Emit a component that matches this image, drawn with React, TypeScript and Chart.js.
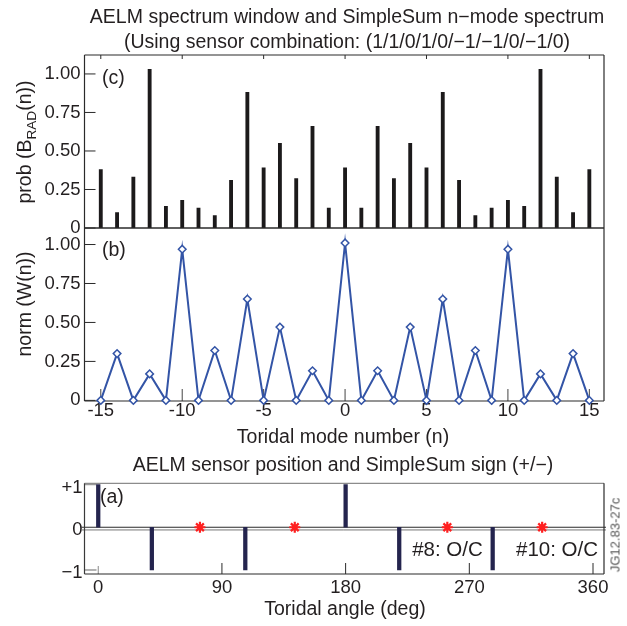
import React, { useEffect, useRef } from "react";
import { Chart, registerables } from "chart.js";

Chart.register(...registerables);

// ---------------- data ----------------
const modeNumbers = [-15, -14, -13, -12, -11, -10, -9, -8, -7, -6, -5, -4, -3, -2, -1, 0, 1, 2, 3, 4, 5, 6, 7, 8, 9, 10, 11, 12, 13, 14, 15];
const probBRad = [0.38, 0.1, 0.33, 1.03, 0.14, 0.18, 0.13, 0.08, 0.31, 0.88, 0.39, 0.55, 0.32, 0.66, 0.13, 0.39, 0.13, 0.66, 0.32, 0.55, 0.39, 0.88, 0.31, 0.08, 0.13, 0.18, 0.14, 1.03, 0.33, 0.1, 0.38];
const normW = [0, 0.3, 0, 0.17, 0, 0.97, 0, 0.32, 0, 0.65, 0, 0.47, 0, 0.19, 0, 1.01, 0, 0.19, 0, 0.47, 0, 0.65, 0, 0.32, 0, 0.97, 0, 0.17, 0, 0.3, 0];

const probTickValues = [0, 0.25, 0.5, 0.75, 1];
const probTickLabels = ["0", "0.25", "0.50", "0.75", "1.00"];
const modeTickValues = [-15, -10, -5, 0, 5, 10, 15];
const modeTickLabels = ["-15", "-10", "-5", "0", "5", "10", "15"];

const sensorAngles = [0, 39, 107, 180, 219, 287];
const sensorSigns = [1, -1, -1, 1, -1, -1];
const openSensorAngles = [74, 143, 254, 323];
const openSensorValues = [0, 0, 0, 0];
const signTickValues = [-1, 0, 1];
const signTickLabels = ["\u22121", "0", "+1"];
const angleTickValues = [0, 90, 180, 270, 360];
const angleTickLabels = ["0", "90", "180", "270", "360"];

// ---------------- styles ----------------
const FONT = "'Liberation Sans', Arial, Helvetica, sans-serif";
const TEXT = "#231f20";
const BAR_C = "#1c1a1b";
const BLUE = "#3354a6";
const NAVY = "#24244e";
const RED = "#ff1f1f";
const FRAME = "#2a2a2a";
const TICK_FONT = { family: FONT, size: 18.5, lineHeight: 1 };

const PLOT_LEFT = 84.5;
const RIGHT_PAD = 23;

type TickSpec = { axis: "x" | "y"; side: "top" | "bottom" | "left"; values: number[]; length: number; color: string; width: number };
type LineSpec = { value: number; offset: number; color: string; width: number; extendLeft: number; extendRight: number };
type FrameSpec = { sides: { top: string; right: string; bottom: string; left: string }; width: number; ticks: TickSpec[]; lines: LineSpec[] };

function makeFrame(spec: FrameSpec) {
  return {
    id: "frame",
    beforeDatasetsDraw(chart: any) {
      const { ctx, chartArea: a, scales } = chart;
      ctx.save();
      ctx.lineCap = "butt";
      spec.lines.forEach((l) => {
        const y = scales.y.getPixelForValue(l.value) + l.offset;
        ctx.strokeStyle = l.color;
        ctx.lineWidth = l.width;
        ctx.beginPath();
        ctx.moveTo(a.left - l.extendLeft, y);
        ctx.lineTo(a.right + l.extendRight, y);
        ctx.stroke();
      });
      spec.ticks.forEach((t) => {
        const scale = scales[t.axis];
        ctx.strokeStyle = t.color;
        ctx.lineWidth = t.width;
        t.values.forEach((v) => {
          const p = scale.getPixelForValue(v);
          ctx.beginPath();
          if (t.side === "bottom") {
            ctx.moveTo(p, a.bottom);
            ctx.lineTo(p, a.bottom - t.length);
          } else if (t.side === "top") {
            ctx.moveTo(p, a.top);
            ctx.lineTo(p, a.top + t.length);
          } else {
            ctx.moveTo(a.left, p);
            ctx.lineTo(a.left + t.length, p);
          }
          ctx.stroke();
        });
      });
      const seg = (x1: number, y1: number, x2: number, y2: number, c: string) => {
        ctx.strokeStyle = c;
        ctx.lineWidth = spec.width;
        ctx.beginPath();
        ctx.moveTo(x1, y1);
        ctx.lineTo(x2, y2);
        ctx.stroke();
      };
      seg(a.left, a.top, a.right, a.top, spec.sides.top);
      seg(a.right, a.top, a.right, a.bottom, spec.sides.right);
      seg(a.left, a.bottom, a.right, a.bottom, spec.sides.bottom);
      seg(a.left, a.top, a.left, a.bottom, spec.sides.left);
      ctx.restore();
    },
  };
}

const fixedTicks = (values: number[]) => (scale: any) => {
  scale.ticks = values.map((v) => ({ value: v }));
};

const baseOptions = {
  responsive: false,
  animation: false as const,
  events: [] as any[],
};

function yAxis(min: number, max: number, values: number[], labels: string[], padding: number, labelOffset: number) {
  return {
    type: "linear" as const,
    min,
    max,
    afterBuildTicks: fixedTicks(values),
    afterFit: (s: any) => {
      s.width = PLOT_LEFT;
    },
    grid: { display: false, drawTicks: false },
    border: { display: false },
    ticks: {
      autoSkip: false,
      padding,
      labelOffset,
      color: TEXT,
      font: TICK_FONT,
      callback: (_v: any, i: number) => labels[i],
    },
  };
}

function xAxis(min: number, max: number, values: number[], labels: string[], show: boolean, padding: number) {
  return {
    type: "linear" as const,
    min,
    max,
    offset: false,
    display: show,
    afterBuildTicks: fixedTicks(values),
    afterFit: show
      ? (s: any) => {
          s.height = 30;
        }
      : undefined,
    grid: { display: false, drawTicks: false, offset: false },
    border: { display: false },
    ticks: {
      autoSkip: false,
      maxRotation: 0,
      padding,
      color: TEXT,
      font: TICK_FONT,
      callback: (_v: any, i: number) => labels[i],
    },
  };
}

function Txt(props: { x: number; y: number; size?: number; rotate?: boolean; left?: boolean; color?: string; children: React.ReactNode }) {
  const { x, y, size = 19.5, rotate, left, color = TEXT, children } = props;
  return (
    <div
      style={{
        position: "absolute",
        left: x,
        top: y,
        transform: left ? "translate(0,-50%)" : `translate(-50%,-50%)${rotate ? " rotate(-90deg)" : ""}`,
        fontFamily: FONT,
        fontSize: size,
        color,
        whiteSpace: "nowrap",
        lineHeight: 1,
      }}
    >
      {children}
    </div>
  );
}

const canvasStyle = (top: number, h: number): React.CSSProperties => ({
  position: "absolute",
  left: 0,
  top,
  width: 627,
  height: h,
});

export default function App() {
  const cRef = useRef<HTMLCanvasElement>(null);
  const bRef = useRef<HTMLCanvasElement>(null);
  const aRef = useRef<HTMLCanvasElement>(null);

  useEffect(() => {
    const charts: Chart[] = [];

    // ---- panel (c): prob(B_RAD(n)) bars ----
    charts.push(
      new Chart(cRef.current as HTMLCanvasElement, {
        type: "bar",
        data: {
          datasets: [
            {
              data: modeNumbers.map((n, i) => ({ x: n, y: probBRad[i] })),
              backgroundColor: BAR_C,
              borderWidth: 0,
              barThickness: 3.2,
            } as any,
          ],
        },
        options: {
          ...baseOptions,
          layout: { padding: { left: 0, right: RIGHT_PAD, top: 55, bottom: 16 } },
          plugins: { legend: { display: false }, tooltip: { enabled: false } },
          scales: {
            x: xAxis(-16, 15.9, modeTickValues, modeTickLabels, false, 0) as any,
            y: yAxis(0, 1.123, probTickValues, probTickLabels, 4, 0) as any,
          },
        },
        plugins: [
          makeFrame({
            sides: { top: FRAME, right: FRAME, bottom: FRAME, left: FRAME },
            width: 1.2,
            lines: [],
            ticks: [
              { axis: "x", side: "top", values: modeTickValues, length: 4, color: FRAME, width: 1 },
              { axis: "y", side: "left", values: probTickValues, length: 11, color: FRAME, width: 1 },
            ],
          }),
        ],
      })
    );

    // ---- panel (b): norm(W(n)) line ----
    charts.push(
      new Chart(bRef.current as HTMLCanvasElement, {
        type: "line",
        data: {
          datasets: [
            {
              data: modeNumbers.map((n, i) => ({ x: n, y: normW[i] })),
              borderColor: BLUE,
              borderWidth: 2,
              tension: 0,
              pointStyle: "rectRot",
              pointRadius: 3.8,
              pointBorderWidth: 1.5,
              pointBorderColor: BLUE,
              pointBackgroundColor: "#ffffff",
              clip: false,
            } as any,
          ],
        },
        options: {
          ...baseOptions,
          layout: { padding: { left: 0, right: RIGHT_PAD, top: 28, bottom: 29 } },
          plugins: { legend: { display: false }, tooltip: { enabled: false } },
          scales: {
            x: xAxis(-16, 15.9, modeTickValues, modeTickLabels, true, 1) as any,
            y: yAxis(-0.004, 1.106, probTickValues, probTickLabels, 4, 0) as any,
          },
        },
        plugins: [
          makeFrame({
            sides: { top: FRAME, right: FRAME, bottom: FRAME, left: FRAME },
            width: 1.2,
            lines: [],
            ticks: [
              { axis: "x", side: "bottom", values: modeTickValues, length: 12, color: "#444", width: 1 },
              { axis: "y", side: "left", values: probTickValues, length: 11, color: FRAME, width: 1 },
            ],
          }),
        ],
      })
    );

    // ---- panel (a): sensor positions and signs ----
    charts.push(
      new Chart(aRef.current as HTMLCanvasElement, {
        type: "bar",
        data: {
          datasets: [
            {
              type: "bar",
              data: sensorAngles.map((ang, i) => ({ x: ang, y: sensorSigns[i] })),
              backgroundColor: NAVY,
              borderWidth: 0,
              barThickness: 3.6,
            } as any,
            {
              type: "scatter",
              data: openSensorAngles.map((ang, i) => ({ x: ang, y: openSensorValues[i] })),
              pointStyle: "star",
              pointRadius: 5.5,
              pointBorderWidth: 2.2,
              pointBorderColor: RED,
              pointBackgroundColor: RED,
              clip: false,
            } as any,
          ],
        },
        options: {
          ...baseOptions,
          layout: { padding: { left: 0, right: RIGHT_PAD, top: 23.3, bottom: 22 } },
          plugins: { legend: { display: false }, tooltip: { enabled: false } },
          scales: {
            x: xAxis(-10, 368, angleTickValues, angleTickLabels, true, 5) as any,
            y: yAxis(-1.094, 1.028, signTickValues, signTickLabels, 2, 3) as any,
          },
        },
        plugins: [
          makeFrame({
            sides: { top: "#8c8c8c", right: FRAME, bottom: FRAME, left: "#3a3a3a" },
            width: 1.2,
            lines: [
              { value: 0, offset: 0, color: FRAME, width: 1.2, extendLeft: 3, extendRight: 2 },
              { value: 0, offset: 2.7, color: "#777", width: 1, extendLeft: 3, extendRight: 2 },
            ],
            ticks: [
              { axis: "x", side: "bottom", values: [90, 180, 270, 360], length: 11, color: FRAME, width: 1 },
              { axis: "x", side: "bottom", values: [0], length: 8, color: "#888", width: 1 },
              { axis: "y", side: "left", values: [-1, 1], length: 12, color: "#999", width: 1.5 },
            ],
          }),
        ],
      })
    );

    return () => charts.forEach((c) => c.destroy());
  }, []);

  return (
    <div style={{ position: "absolute", left: 0, top: 0, width: 627, height: 626, overflow: "hidden", background: "#fff" }}>
      <canvas ref={cRef} width={627} height={244} style={canvasStyle(0, 244)} />
      <canvas ref={bRef} width={627} height={260} style={canvasStyle(200, 260)} />
      <canvas ref={aRef} width={627} height={166} style={canvasStyle(460, 166)} />

      <Txt x={347} y={17}>AELM spectrum window and SimpleSum n{"\u2212"}mode spectrum</Txt>
      <Txt x={347} y={42}>(Using sensor combination: (1/1/0/1/0/{"\u2212"}1/{"\u2212"}1/0/{"\u2212"}1/0)</Txt>

      <Txt x={25} y={142} rotate>
        prob (B<span style={{ fontSize: "0.7em", position: "relative", top: "0.35em" }}>RAD</span>(n))
      </Txt>
      <Txt x={25} y={304} rotate>norm (W(n))</Txt>

      <Txt x={102} y={78} left>(c)</Txt>
      <Txt x={102} y={250} left>(b)</Txt>

      <Txt x={343} y={437}>Toridal mode number (n)</Txt>
      <Txt x={343} y={465}>AELM sensor position and SimpleSum sign (+/{"\u2212"})</Txt>

      <Txt x={100} y={497} left>(a)</Txt>
      <Txt x={447.5} y={549} size={20.5}>#8: O/C</Txt>
      <Txt x={557} y={549} size={20.5}>#10: O/C</Txt>
      <Txt x={345} y={609}>Toridal angle (deg)</Txt>
      <Txt x={615} y={535} size={13} rotate color="#555">JG12.83-27c</Txt>
    </div>
  );
}
